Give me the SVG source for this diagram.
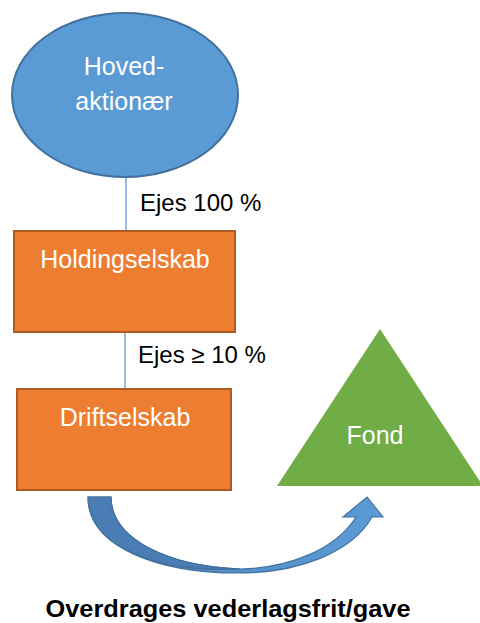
<svg xmlns="http://www.w3.org/2000/svg" width="480" height="623" viewBox="0 0 480 623">
<defs>
<style>
.lbl{font-family:"Liberation Sans",Arial,sans-serif;font-size:25px;fill:#fff;text-anchor:middle}
.edge{font-family:"Liberation Sans",Arial,sans-serif;font-size:24px;fill:#000}
.conn{stroke:#5B9BD5;stroke-width:1.3;fill:none}
.box{fill:#ED7D31;stroke:#AE5A21;stroke-width:2}
</style>
<linearGradient id="ag" x1="0" y1="0" x2="1" y2="0">
<stop offset="0" stop-color="#4E86C0"/>
<stop offset="1" stop-color="#5B9BD5"/>
</linearGradient>
</defs>
<rect width="480" height="623" fill="#fff"/>
<g id="connectors">
<line class="conn" x1="126" y1="177" x2="126" y2="231"/>
<line class="conn" x1="125" y1="332" x2="125" y2="389"/>
<text class="edge" x="140" y="211">Ejes 100 %</text>
<text class="edge" x="138" y="363">Ejes ≥ 10 %</text>
</g>
<g id="hovedaktionaer">
<ellipse cx="125" cy="95" rx="113" ry="82" fill="#5B9BD5" stroke="#41719C" stroke-width="2"/>
<text class="lbl" x="124" y="75">Hoved-</text>
<text class="lbl" x="124" y="110">aktionær</text>
</g>
<g id="holdingselskab">
<rect class="box" x="14" y="231" width="221" height="101"/>
<text class="lbl" x="125" y="268">Holdingselskab</text>
</g>
<g id="driftselskab">
<rect class="box" x="17" y="389" width="214" height="101"/>
<text class="lbl" x="125" y="426">Driftselskab</text>
</g>
<g id="fond">
<polygon points="380,329 277,486 483,486" fill="#70AD47"/>
<text class="lbl" x="375" y="444">Fond</text>
</g>
<g id="gave-arrow">
<path d="M88,497 L111,497 C111,538 165,566 240,569 C290,568 336,549 356,517 L343,517 L367,497 L383,517 L372,517 C352,552 300,573 238,573 C160,573 88,548 88,497 Z" fill="url(#ag)" stroke="#41719C" stroke-width="1.2" stroke-linejoin="miter"/>
<path d="M88,497 L111,497 C111,538 165,566 240,569 C160,573 88,548 88,497 Z" fill="#4A7DB4" stroke="#41719C" stroke-width="1.2"/>
<text x="228" y="617" font-family="Liberation Sans,Arial,sans-serif" font-size="24.5" font-weight="bold" fill="#000" text-anchor="middle" textLength="365" lengthAdjust="spacingAndGlyphs">Overdrages vederlagsfrit/gave</text>
</g>
</svg>
